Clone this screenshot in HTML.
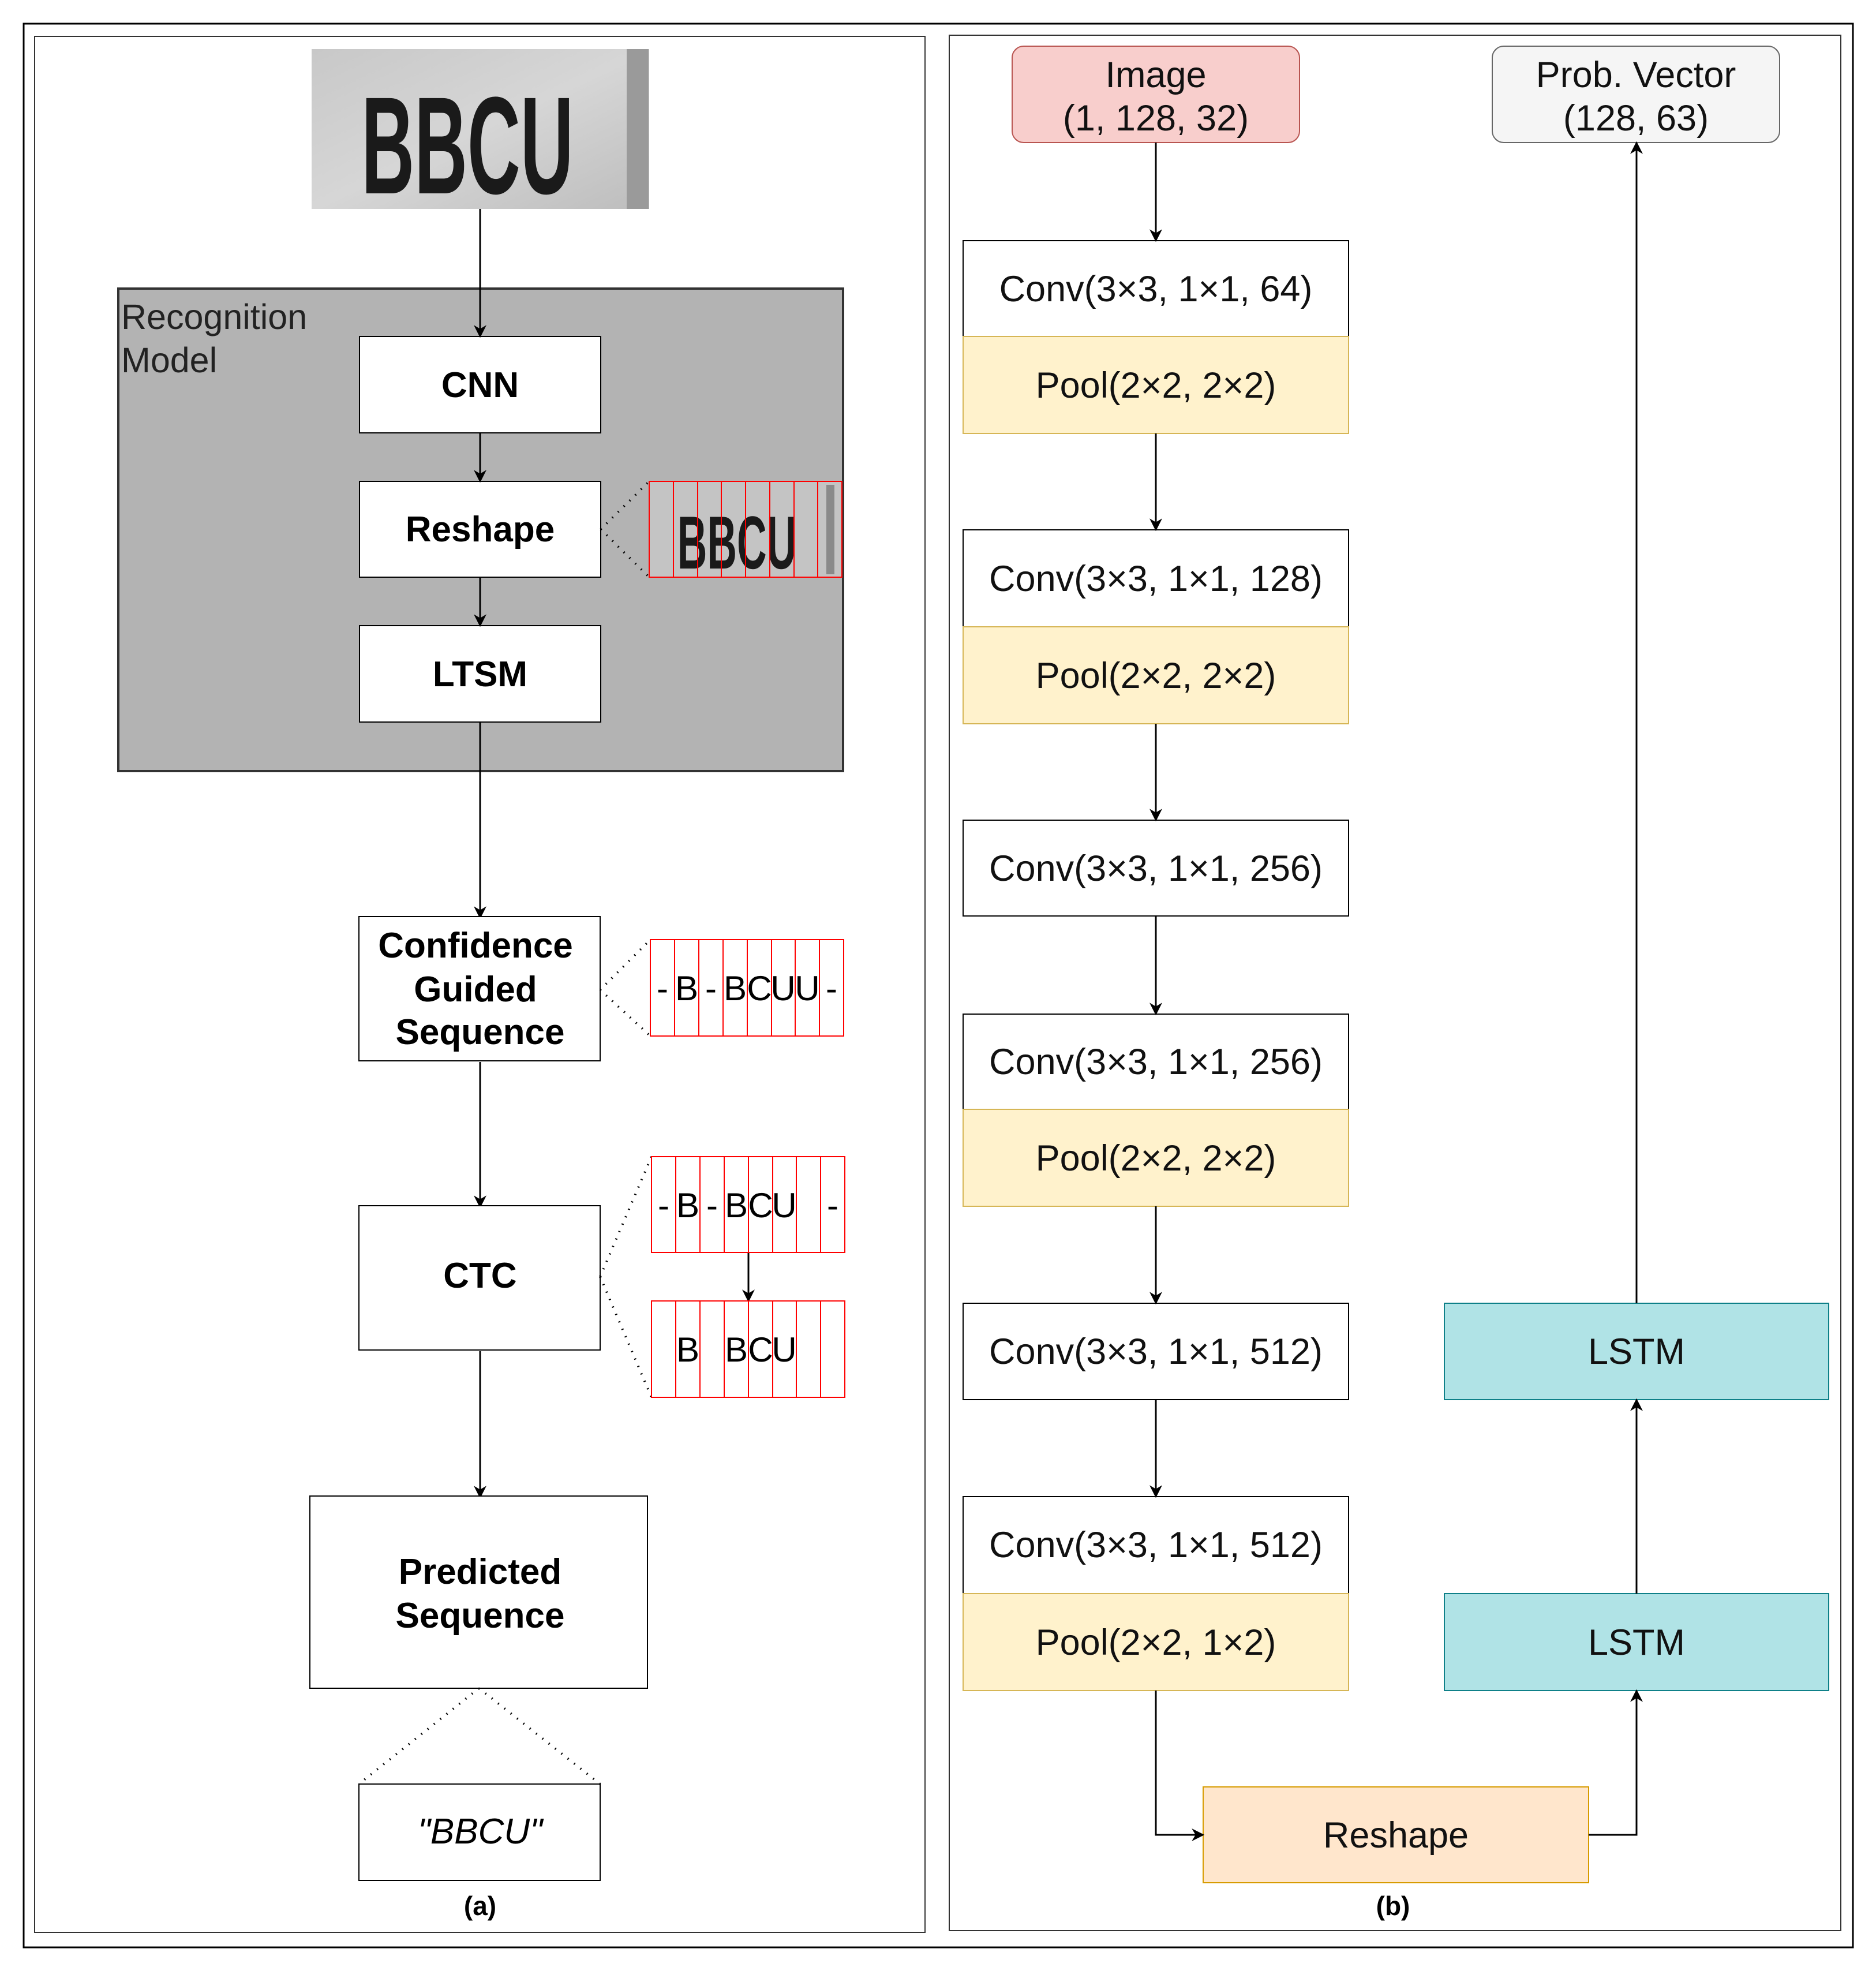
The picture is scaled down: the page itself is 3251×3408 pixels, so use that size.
<!DOCTYPE html>
<html><head><meta charset="utf-8"><style>
html,body{margin:0;padding:0;background:#fff}
svg{display:block}
text{font-family:"Liberation Sans",Arial,sans-serif}
</style></head><body>
<svg width="3251" height="3408" viewBox="0 0 3251 3408" xmlns="http://www.w3.org/2000/svg">
<defs>
<marker id="a2" viewBox="0 0 10 10" refX="9" refY="5" markerWidth="22" markerHeight="22" orient="auto" markerUnits="userSpaceOnUse"><path d="M0,0 L10,5 L0,10 L3,5 Z" fill="#000"/></marker>
<linearGradient id="g1" x1="0" y1="0" x2="1" y2="1"><stop offset="0" stop-color="#c8c8c8"/><stop offset="0.5" stop-color="#d6d6d6"/><stop offset="1" stop-color="#bdbdbd"/></linearGradient>
</defs>
<rect x="0" y="0" width="3251" height="3408" fill="#fff"/>
<rect x="41" y="41" width="3170" height="3333" fill="none" stroke="#000" stroke-width="3"/>
<rect x="60" y="63" width="1543" height="3285" fill="none" stroke="#333" stroke-width="2"/>
<rect x="1645" y="61" width="1545" height="3284" fill="none" stroke="#333" stroke-width="2"/>

<!-- top image -->
<rect x="540" y="85" width="585" height="277" fill="url(#g1)"/>
<rect x="1086" y="85" width="38" height="277" fill="#9a9a9a"/>
<text x="810" y="335" font-size="240" font-weight="bold" fill="#1a1a1a" text-anchor="middle" transform="translate(810,0) scale(0.53,1) translate(-810,0)">BBCU</text>

<!-- recognition model -->
<rect x="205" y="500" width="1256" height="836" fill="#b3b3b3" stroke="#333" stroke-width="4"/>
<text x="210" y="570" font-size="61" fill="#222">Recognition</text>
<text x="210" y="645" font-size="61" fill="#222">Model</text>
<g stroke="#000" stroke-width="2" fill="#fff">
<rect x="623" y="583" width="418" height="167"/>
<rect x="623" y="834" width="418" height="166"/>
<rect x="623" y="1084" width="418" height="167"/>
</g>
<g font-size="62" font-weight="bold" text-anchor="middle">
<text x="832" y="688">CNN</text>
<text x="832" y="938">Reshape</text>
<text x="832" y="1189">LTSM</text>
</g>
<!-- reshape strip -->
<rect x="1125" y="834" width="334" height="166" fill="#c4c4c4"/>
<rect x="1432" y="840" width="14" height="155" fill="#8a8a8a"/>
<text x="1277" y="985" font-size="130" font-weight="bold" fill="#1a1a1a" text-anchor="middle" transform="translate(1277,0) scale(0.55,1) translate(-1277,0)">BBCU</text>
<g stroke="#f00" stroke-width="2" fill="none">
<rect x="1125" y="834" width="334" height="166"/>
<path d="M1167,834V1000M1209,834V1000M1250,834V1000M1292,834V1000M1334,834V1000M1376,834V1000M1417,834V1000"/>
</g>
<g stroke="#000" stroke-width="4" stroke-dasharray="2,12" fill="none">
<path d="M1041,917L1125,834M1041,917L1125,1000"/>
</g>

<!-- left arrows -->
<g stroke="#000" stroke-width="3" fill="none" marker-end="url(#a2)">
<path d="M832,362V583"/><path d="M832,750V834"/><path d="M832,1000V1084"/>
<path d="M832,1251V1590"/><path d="M832,1840V2091"/><path d="M832,2341V2594"/>
<path d="M1297,2170V2254"/>
</g>

<g stroke="#000" stroke-width="2" fill="#fff">
<rect x="622" y="1588" width="418" height="250"/>
<rect x="622" y="2089" width="418" height="250"/>
<rect x="537" y="2592" width="585" height="333"/>
<rect x="622" y="3091" width="418" height="167"/>
</g>
<g font-size="62" font-weight="bold" text-anchor="middle">
<text x="824" y="1659">Confidence</text>
<text x="824" y="1735">Guided</text>
<text x="832" y="1809">Sequence</text>
<text x="832" y="2231">CTC</text>
<text x="832" y="2744">Predicted</text>
<text x="832" y="2820">Sequence</text>
</g>
<text x="832" y="3194" font-size="62" font-style="italic" text-anchor="middle">"BBCU"</text>
<text x="832" y="3318" font-size="46" font-weight="bold" text-anchor="middle">(a)</text>
<text x="2414" y="3318" font-size="46" font-weight="bold" text-anchor="middle">(b)</text>

<g stroke="#000" stroke-width="4" stroke-dasharray="2,12" fill="none">
<path d="M1040,1715L1127,1628M1040,1715L1127,1795"/>
<path d="M1040,2212L1129,2004M1040,2212L1129,2421"/>
<path d="M830,2925L622,3091M830,2925L1040,3091"/>
</g>

<!-- strips -->
<g stroke="#f00" stroke-width="2" fill="#fff">
<rect x="1127" y="1628" width="335" height="167"/>
<rect x="1129" y="2004" width="335" height="166"/>
<rect x="1129" y="2254" width="335" height="167"/>
</g>
<g stroke="#f00" stroke-width="2">
<path d="M1169,1628V1795M1211,1628V1795M1253,1628V1795M1295,1628V1795M1337,1628V1795M1378,1628V1795M1420,1628V1795"/>
<path d="M1171,2004V2170M1213,2004V2170M1255,2004V2170M1297,2004V2170M1339,2004V2170M1380,2004V2170M1422,2004V2170"/>
<path d="M1171,2254V2421M1213,2254V2421M1255,2254V2421M1297,2254V2421M1339,2254V2421M1380,2254V2421M1422,2254V2421"/>
</g>
<g font-size="60" text-anchor="middle">
<text x="1148" y="1733">-</text><text x="1190" y="1733">B</text><text x="1232" y="1733">-</text><text x="1274" y="1733">B</text><text x="1316" y="1733">C</text><text x="1357" y="1733">U</text><text x="1399" y="1733">U</text><text x="1441" y="1733">-</text>
<text x="1150" y="2109">-</text><text x="1192" y="2109">B</text><text x="1234" y="2109">-</text><text x="1276" y="2109">B</text><text x="1318" y="2109">C</text><text x="1359" y="2109">U</text><text x="1443" y="2109">-</text>
<text x="1192" y="2359">B</text><text x="1276" y="2359">B</text><text x="1318" y="2359">C</text><text x="1359" y="2359">U</text>
</g>

<!-- right panel -->
<g transform="translate(7,-3)">
<rect x="1747" y="83" width="498" height="167" rx="20" fill="#f8cecc" stroke="#b85450" stroke-width="2"/>
<rect x="2579" y="83" width="498" height="167" rx="20" fill="#f5f5f5" stroke="#666" stroke-width="2"/>
<g font-size="63" text-anchor="middle" fill="#111">
<text x="1996" y="154">Image</text><text x="1996" y="229">(1, 128, 32)</text>
<text x="2828" y="154">Prob. Vector</text><text x="2828" y="229">(128, 63)</text>
</g>
<g stroke-width="2">
<rect x="1662" y="420" width="668" height="166" fill="#fff" stroke="#000"/>
<rect x="1662" y="586" width="668" height="168" fill="#fff2cc" stroke="#d6b656"/>
<rect x="1662" y="921" width="668" height="168" fill="#fff" stroke="#000"/>
<rect x="1662" y="1089" width="668" height="168" fill="#fff2cc" stroke="#d6b656"/>
<rect x="1662" y="1424" width="668" height="166" fill="#fff" stroke="#000"/>
<rect x="1662" y="1760" width="668" height="165" fill="#fff" stroke="#000"/>
<rect x="1662" y="1925" width="668" height="168" fill="#fff2cc" stroke="#d6b656"/>
<rect x="1662" y="2261" width="668" height="167" fill="#fff" stroke="#000"/>
<rect x="1662" y="2596" width="668" height="168" fill="#fff" stroke="#000"/>
<rect x="1662" y="2764" width="668" height="168" fill="#fff2cc" stroke="#d6b656"/>
<rect x="2496" y="2261" width="666" height="167" fill="#b0e3e6" stroke="#0e8088"/>
<rect x="2496" y="2764" width="666" height="168" fill="#b0e3e6" stroke="#0e8088"/>
<rect x="2078" y="3099" width="668" height="166" fill="#ffe6cc" stroke="#d79b00"/>
</g>
<g font-size="63" text-anchor="middle" fill="#111">
<text x="1996" y="525">Conv(3×3, 1×1, 64)</text>
<text x="1996" y="692">Pool(2×2, 2×2)</text>
<text x="1996" y="1027">Conv(3×3, 1×1, 128)</text>
<text x="1996" y="1195">Pool(2×2, 2×2)</text>
<text x="1996" y="1529">Conv(3×3, 1×1, 256)</text>
<text x="1996" y="1864">Conv(3×3, 1×1, 256)</text>
<text x="1996" y="2031">Pool(2×2, 2×2)</text>
<text x="1996" y="2366">Conv(3×3, 1×1, 512)</text>
<text x="1996" y="2701">Conv(3×3, 1×1, 512)</text>
<text x="1996" y="2870">Pool(2×2, 1×2)</text>
<text x="2829" y="2366">LSTM</text>
<text x="2829" y="2870">LSTM</text>
<text x="2412" y="3204">Reshape</text>
</g>
<g stroke="#000" stroke-width="3" fill="none" marker-end="url(#a2)">
<path d="M1996,250V420"/><path d="M1996,754V921"/><path d="M1996,1257V1424"/>
<path d="M1996,1590V1760"/><path d="M1996,2093V2261"/><path d="M1996,2428V2596"/>
<path d="M1996,2932V3182H2078"/>
<path d="M2746,3182H2829V2932"/>
<path d="M2829,2764V2428"/>
<path d="M2829,2261V250"/>
</g>
</g>
</svg>
</body></html>
